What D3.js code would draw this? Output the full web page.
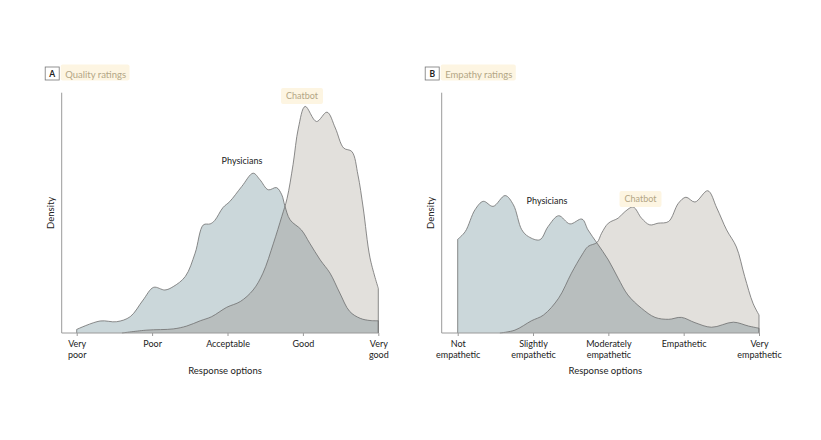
<!DOCTYPE html>
<html>
<head>
<meta charset="utf-8">
<script src="https://cdn.jsdelivr.net/npm/d3@7"></script>
<style>
  body { margin: 0; background: #fff; }
  text { font-family: Lato, "Open Sans", sans-serif; }
</style>
</head>
<body>
<script>
const W = 821, H = 440;

// rating positions (1..5) and density values
const qualityLabels = [["Very", "poor"], ["Poor"], ["Acceptable"], ["Good"], ["Very", "good"]];
const empathyLabels = [["Not", "empathetic"], ["Slightly", "empathetic"], ["Moderately", "empathetic"], ["Empathetic"], ["Very", "empathetic"]];

const qualityPhysX = [1.00, 1.31, 1.53, 1.71, 1.88, 2.02, 2.17, 2.28, 2.44, 2.57, 2.68, 2.77, 2.83, 2.94, 3.03, 3.19, 3.34, 3.43, 3.54, 3.65, 3.72, 3.76, 3.83, 3.98, 4.09, 4.23, 4.36, 4.49, 4.62, 4.76, 4.89, 5.00];
const qualityPhysY = [0.015, 0.050, 0.047, 0.068, 0.137, 0.190, 0.179, 0.193, 0.235, 0.332, 0.450, 0.454, 0.468, 0.522, 0.547, 0.610, 0.665, 0.638, 0.596, 0.605, 0.575, 0.530, 0.471, 0.429, 0.374, 0.304, 0.249, 0.166, 0.090, 0.061, 0.052, 0.051];
const qualityBotX = [1.60, 1.93, 2.28, 2.46, 2.64, 2.79, 2.99, 3.17, 3.34, 3.47, 3.61, 3.72, 3.79, 3.87, 3.94, 4.03, 4.18, 4.32, 4.43, 4.54, 4.65, 4.73, 4.80, 4.89, 5.00];
const qualityBotY = [0.000, 0.012, 0.017, 0.029, 0.051, 0.068, 0.107, 0.131, 0.179, 0.249, 0.374, 0.485, 0.560, 0.702, 0.853, 0.943, 0.880, 0.919, 0.853, 0.770, 0.755, 0.658, 0.520, 0.313, 0.186];

const empathyPhysX = [1.00, 1.10, 1.23, 1.34, 1.47, 1.63, 1.74, 1.85, 1.94, 2.09, 2.20, 2.34, 2.49, 2.65, 2.73, 2.85, 3.00, 3.13, 3.26, 3.44, 3.62, 3.80, 3.97, 4.15, 4.37, 4.66, 4.86, 5.00];
const empathyPhysY = [0.390, 0.422, 0.513, 0.548, 0.527, 0.572, 0.533, 0.430, 0.401, 0.388, 0.443, 0.488, 0.454, 0.474, 0.429, 0.374, 0.304, 0.228, 0.158, 0.103, 0.065, 0.057, 0.065, 0.043, 0.024, 0.045, 0.029, 0.020];
const empathyBotX = [1.56, 1.76, 1.98, 2.14, 2.34, 2.51, 2.65, 2.73, 2.85, 2.91, 3.00, 3.13, 3.22, 3.33, 3.44, 3.55, 3.66, 3.80, 3.93, 4.03, 4.15, 4.32, 4.44, 4.57, 4.70, 4.81, 4.92, 5.00];
const empathyBotY = [0.000, 0.012, 0.051, 0.075, 0.145, 0.249, 0.325, 0.360, 0.377, 0.415, 0.457, 0.478, 0.505, 0.524, 0.478, 0.450, 0.457, 0.464, 0.540, 0.565, 0.545, 0.592, 0.520, 0.429, 0.358, 0.235, 0.124, 0.075];

const svg = d3.select("body").append("svg")
    .attr("width", W)
    .attr("height", H);

const yTop = 92.7, yBase = 333;
const y = d3.scaleLinear().domain([0, 1]).range([yBase, yTop]);

let clipCount = 0;
function panel(opt) {
    const x = d3.scaleLinear().domain([1, 5]).range([opt.x0, opt.x1]);
    const g = svg.append("g");

    const phys = opt.physX.map((v, i) => [v, opt.physY[i]]);
    const bot = opt.botX.map((v, i) => [v, opt.botY[i]]);

    const area = d3.area()
        .x(d => x(d[0]))
        .y0(y(0))
        .y1(d => y(d[1]))
        .curve(d3.curveCatmullRom.alpha(0.5));
    const line = d3.line()
        .x(d => x(d[0]))
        .y(d => y(d[1]))
        .curve(d3.curveCatmullRom.alpha(0.5));

    const clipId = "clip-" + clipCount++;
    g.append("clipPath").attr("id", clipId)
        .append("path").attr("d", area(bot));

    g.append("path").attr("d", area(bot)).attr("fill", "#e2e0dc");
    g.append("path").attr("d", area(phys)).attr("fill", "#cbd7da");
    g.append("path").attr("d", area(phys)).attr("fill", "#b8bebe")
        .attr("clip-path", `url(#${clipId})`);

    // outlines, closed down to the baseline at the ends
    const outline = pts => {
        const first = pts[0], last = pts[pts.length - 1];
        return `M${x(first[0])},${y(0)}L` + line(pts).slice(1) + `L${x(last[0])},${y(0)}`;
    };
    g.append("path").attr("d", outline(bot))
        .attr("fill", "none").attr("stroke", "#6e6e6e").attr("stroke-width", 0.8);
    g.append("path").attr("d", outline(phys))
        .attr("fill", "none").attr("stroke", "#6e6e6e").attr("stroke-width", 0.8);

    // axes lines
    g.append("line")
        .attr("x1", opt.axisX).attr("x2", opt.axisX)
        .attr("y1", yTop).attr("y2", yBase)
        .attr("stroke", "#9a9a9a").attr("stroke-width", 1);
    g.append("line")
        .attr("x1", opt.axisX).attr("x2", x(5))
        .attr("y1", yBase).attr("y2", yBase)
        .attr("stroke", "#9a9a9a").attr("stroke-width", 1);

    const ax = g.append("g")
        .attr("transform", `translate(0,${yBase})`)
        .call(d3.axisBottom(x).tickValues([1, 2, 3, 4, 5]).tickSize(3).tickSizeOuter(0).tickFormat(""));
    ax.select(".domain").remove();
    ax.selectAll(".tick line").attr("stroke", "#9a9a9a");
    ax.selectAll(".tick").each(function(d) {
        const t = d3.select(this).append("text")
            .attr("fill", "#222")
            .attr("font-size", 9)
            .attr("text-anchor", "middle")
            .attr("y", 14);
        opt.labels[d - 1].forEach((s, i) => {
            t.append("tspan").attr("x", 0).attr("dy", i ? 11 : 0).text(s);
        });
    });

    g.append("text")
        .attr("x", (opt.axisX + x(5)) / 2 + 5).attr("y", 374)
        .attr("text-anchor", "middle").attr("font-size", 9.5).attr("fill", "#222")
        .text("Response options");
    g.append("text")
        .attr("transform", `translate(${opt.axisX - 8},${(yTop + yBase) / 2}) rotate(-90)`)
        .attr("text-anchor", "middle").attr("font-size", 9.5).attr("fill", "#222")
        .text("Density");

    // panel heading
    g.append("rect")
        .attr("x", opt.axisX - 16.5).attr("y", 67).attr("width", 14).attr("height", 13)
        .attr("fill", "#fff").attr("stroke", "#777").attr("stroke-width", 0.8);
    g.append("text")
        .attr("x", opt.axisX - 9.5).attr("y", 77).attr("text-anchor", "middle")
        .attr("font-size", 8.5).attr("font-weight", "bold").attr("fill", "#222")
        .text(opt.letter);
    const titleBg = g.append("rect");
    const title = g.append("text")
        .attr("x", opt.axisX + 3.5).attr("y", 77.5)
        .attr("font-size", 9.5).attr("fill", "#b3a685")
        .text(opt.title);
    const tw = title.node().getComputedTextLength();
    titleBg.attr("x", opt.axisX - 1).attr("y", 64.5).attr("width", tw + 8).attr("height", 16)
        .attr("rx", 2).attr("fill", "#fdf5e2");

    // series labels
    g.append("text")
        .attr("x", opt.physLab[0]).attr("y", opt.physLab[1])
        .attr("text-anchor", "middle").attr("font-size", 9).attr("fill", "#222")
        .text("Physicians");
    const cbBg = g.append("rect");
    const cb = g.append("text")
        .attr("x", opt.botLab[0]).attr("y", opt.botLab[1])
        .attr("text-anchor", "middle").attr("font-size", 9).attr("fill", "#b3a685")
        .text("Chatbot");
    const cw = cb.node().getComputedTextLength();
    cbBg.attr("x", opt.botLab[0] - cw / 2 - 5).attr("y", opt.botLab[1] - 11)
        .attr("width", cw + 10).attr("height", 16).attr("rx", 2).attr("fill", "#fdf5e2");
}

panel({
    x0: 76.7, x1: 378.3, axisX: 61.7, letter: "A", title: "Quality ratings",
    labels: qualityLabels,
    physX: qualityPhysX, physY: qualityPhysY, botX: qualityBotX, botY: qualityBotY,
    physLab: [242, 164], botLab: [302, 99]
});
panel({
    x0: 457.7, x1: 759, axisX: 441.7, letter: "B", title: "Empathy ratings",
    labels: empathyLabels,
    physX: empathyPhysX, physY: empathyPhysY, botX: empathyBotX, botY: empathyBotY,
    physLab: [547, 204], botLab: [640.5, 202]
});
</script>
</body>
</html>
